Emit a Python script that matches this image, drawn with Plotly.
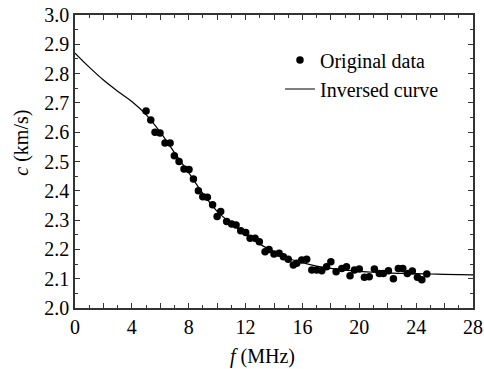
import plotly.graph_objects as go

# Original measured data
data_f = [5.0, 5.33, 5.63, 5.98, 6.33, 6.69, 6.99, 7.32, 7.67, 8.02, 8.33, 8.68, 8.99, 9.31,
          9.68, 10.0, 10.25, 10.67, 11.02, 11.33, 11.66, 12.01, 12.32, 12.67, 12.97, 13.37,
          13.65, 14.0, 14.36, 14.66, 15.0, 15.36, 15.6, 15.95, 16.3, 16.66, 17.0, 17.36,
          17.7, 18.0, 18.37, 18.77, 19.1, 19.35, 19.66, 20.0, 20.36, 20.7, 21.06, 21.41,
          21.69, 22.05, 22.4, 22.75, 23.06, 23.38, 23.73, 24.09, 24.4, 24.75]
data_c = [2.672, 2.642, 2.600, 2.597, 2.563, 2.563, 2.520, 2.500, 2.474, 2.473, 2.440, 2.400,
          2.380, 2.378, 2.352, 2.312, 2.329, 2.295, 2.287, 2.283, 2.264, 2.258, 2.238, 2.238,
          2.226, 2.192, 2.200, 2.184, 2.187, 2.175, 2.166, 2.147, 2.153, 2.164, 2.166, 2.130,
          2.130, 2.127, 2.141, 2.158, 2.124, 2.135, 2.141, 2.110, 2.130, 2.133, 2.105, 2.107,
          2.133, 2.118, 2.118, 2.127, 2.100, 2.135, 2.135, 2.118, 2.126, 2.105, 2.096, 2.116]

# Inversed curve
curve_f = list(range(0, 29))
curve_c = [2.870, 2.822, 2.778, 2.740, 2.705, 2.660, 2.600, 2.530, 2.462, 2.390, 2.330,
           2.288, 2.250, 2.218, 2.192, 2.170, 2.155, 2.143, 2.135, 2.129, 2.125, 2.122,
           2.120, 2.118, 2.117, 2.116, 2.115, 2.114, 2.113]

x_tickvals = list(range(0, 29, 2))
x_ticktext = [str(v) if v % 4 == 0 else "" for v in x_tickvals]
y_tickvals = [round(2.0 + 0.1 * i, 1) for i in range(11)]
y_ticktext = [f"{v:.1f}" for v in y_tickvals]

FONT = "'Liberation Serif', 'Times New Roman', serif"
AX = "#333333"

fig = go.Figure()
fig.add_trace(go.Scatter(x=curve_f, y=curve_c, mode="lines", name="Inversed curve",
                         line=dict(color="black", width=1.2, shape="spline")))
fig.add_trace(go.Scatter(x=data_f, y=data_c, mode="markers", name="Original data",
                         marker=dict(color="black", size=7.5)))

fig.update_layout(
    width=484, height=369,
    margin=dict(l=75, r=11, t=15, b=61, autoexpand=False),
    paper_bgcolor="white", plot_bgcolor="white",
    font=dict(family=FONT, size=20, color="black"),
    showlegend=True,
    legend=dict(x=0.515, y=0.913, xanchor="left", yanchor="top", traceorder="reversed",
                bgcolor="rgba(0,0,0,0)", font=dict(size=20, family=FONT),
                itemwidth=30, tracegroupgap=0),
    xaxis=dict(range=[0, 28], tickmode="array", tickvals=x_tickvals, ticktext=x_ticktext,
               ticks="inside", ticklen=5, tickwidth=1.2, tickcolor=AX, automargin=False,
               minor=dict(dtick=1, ticks="inside", ticklen=3, tickcolor=AX, tickwidth=1.2),
               showline=True, linecolor=AX, linewidth=1.5, mirror="ticks",
               showgrid=False, zeroline=False, tickfont=dict(size=20, family=FONT)),
    yaxis=dict(range=[2.0, 3.0], tickmode="array", tickvals=y_tickvals, ticktext=y_ticktext,
               ticks="inside", ticklen=5, tickwidth=1.2, tickcolor=AX, automargin=False,
               minor=dict(dtick=0.05, tick0=2.0, ticks="inside", ticklen=3, tickcolor=AX, tickwidth=1.2),
               showline=True, linecolor=AX, linewidth=1.5, mirror="ticks",
               showgrid=False, zeroline=False, tickfont=dict(size=20, family=FONT)),
    annotations=[
        dict(text="<i>f</i> (MHz)", xref="paper", yref="paper", x=0.47, y=-0.167,
             xanchor="center", yanchor="middle", showarrow=False, font=dict(size=20, family=FONT)),
        dict(text="<i>c</i> (km/s)", xref="paper", yref="paper", x=-0.135, y=0.565,
             xanchor="center", yanchor="middle", showarrow=False, textangle=-90,
             font=dict(size=20, family=FONT)),
    ],
)

fig.write_html("out.html")
